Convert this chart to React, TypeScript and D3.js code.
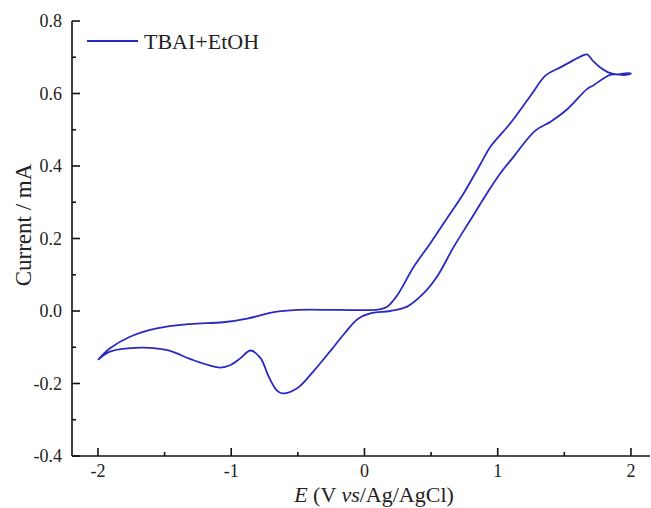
import React from "react";
import * as d3 from "d3";

const W = 651;
const H = 508;
const LEFT = 72;
const RIGHT = 650;
const TOP = 21;
const BOTTOM = 456;
const LINE_COLOR = "#2a2ac2";
const FONT = "'Liberation Serif', 'Times New Roman', serif";

// cyclic voltammogram, in scan order: forward sweep -2 -> 2 V, then back to -2 V
const potential = [
  -2.0, -1.91, -1.76, -1.56, -1.31, -1.06, -0.88, -0.68, -0.5, -0.2, 0.1, 0.17, 0.245, 0.37, 0.495,
  0.62, 0.745, 0.87, 0.945, 1.095, 1.245, 1.36, 1.47, 1.57, 1.64, 1.67, 1.72, 1.77, 1.84, 1.9, 1.97,
  2.0,
  1.95, 1.85, 1.72, 1.67, 1.52, 1.4, 1.28, 1.12, 1.02, 0.92, 0.795, 0.67, 0.545, 0.445, 0.32,
  0.195, 0.05, -0.05, -0.15, -0.255, -0.38, -0.505, -0.617, -0.66, -0.72, -0.78, -0.855, -0.93,
  -1.005, -1.08, -1.2, -1.31, -1.48, -1.68, -1.91, -2.0,
];
const current = [
  -0.135, -0.103, -0.071, -0.048, -0.036, -0.031, -0.021, -0.003, 0.003, 0.003, 0.004, 0.012, 0.043,
  0.122, 0.187, 0.256, 0.325, 0.405, 0.453, 0.518, 0.593, 0.65, 0.672, 0.692, 0.705, 0.708, 0.688,
  0.672, 0.657, 0.653, 0.656, 0.655,
  0.651, 0.652, 0.623, 0.612, 0.556, 0.523, 0.497, 0.426, 0.38, 0.325, 0.251, 0.177, 0.095, 0.049,
  0.012, 0.0, -0.006, -0.022, -0.062, -0.11, -0.165, -0.213, -0.227, -0.218, -0.18, -0.13, -0.109,
  -0.13, -0.149, -0.156, -0.146, -0.132, -0.108, -0.101, -0.112, -0.135,
];

const xMajor = [-2, -1, 0, 1, 2];
const xMinor = [-1.5, -0.5, 0.5, 1.5];
const yMajor = [-0.4, -0.2, 0.0, 0.2, 0.4, 0.6, 0.8];
const yMinor = [-0.3, -0.1, 0.1, 0.3, 0.5, 0.7];
const seriesName = "TBAI+EtOH";

export default function App() {
  const x = d3.scaleLinear().domain([-2.195, 2.143]).range([LEFT, RIGHT]);
  const y = d3.scaleLinear().domain([-0.4, 0.8]).range([BOTTOM, TOP]);

  const pts: [number, number][] = potential.map((e, i) => [e, current[i]]);
  const path = d3
    .line<[number, number]>()
    .x((d) => x(d[0]))
    .y((d) => y(d[1]))
    .curve(d3.curveCatmullRom.alpha(0.5))(pts);

  return (
    <svg
      width={W}
      height={H}
      style={{ position: "absolute", left: 0, top: 0, background: "#fff" }}
      fontFamily={FONT}
    >
      {/* curve */}
      <path d={path || ""} fill="none" stroke={LINE_COLOR} strokeWidth={1.8} strokeLinejoin="round" />

      {/* axes */}
      <g stroke="#111" strokeWidth={1.6}>
        <line x1={LEFT} x2={RIGHT} y1={BOTTOM} y2={BOTTOM} />
        <line x1={LEFT} x2={LEFT} y1={TOP} y2={BOTTOM} />
        {xMajor.map((v) => (
          <line key={"xM" + v} x1={x(v)} x2={x(v)} y1={BOTTOM} y2={BOTTOM - 8} />
        ))}
        {xMinor.map((v) => (
          <line key={"xm" + v} x1={x(v)} x2={x(v)} y1={BOTTOM} y2={BOTTOM - 4} />
        ))}
        {yMajor.map((v) => (
          <line key={"yM" + v} x1={LEFT} x2={LEFT + 8} y1={y(v)} y2={y(v)} />
        ))}
        {yMinor.map((v) => (
          <line key={"ym" + v} x1={LEFT} x2={LEFT + 4} y1={y(v)} y2={y(v)} />
        ))}
      </g>

      {/* tick labels (plain hyphen for negatives, as in the source figure) */}
      <g fontSize={18} fill="#222">
        {xMajor.map((v) => (
          <text key={"xl" + v} x={x(v)} y={BOTTOM + 21} textAnchor="middle">
            {String(v)}
          </text>
        ))}
        {yMajor.map((v) => (
          <text key={"yl" + v} x={LEFT - 10} y={y(v) + 6} textAnchor="end">
            {v.toFixed(1)}
          </text>
        ))}
      </g>

      {/* axis titles */}
      <text x={374} y={502} fontSize={22} textAnchor="middle" fill="#222">
        <tspan fontStyle="italic">E</tspan> (V <tspan fontStyle="italic">vs</tspan>/Ag/AgCl)
      </text>
      <text
        transform={`translate(31, 225) rotate(-90)`}
        fontSize={23}
        textAnchor="middle"
        fill="#222"
      >
        Current / mA
      </text>

      {/* legend */}
      <line x1={87} x2={138} y1={41} y2={41} stroke={LINE_COLOR} strokeWidth={1.8} />
      <text x={144} y={49} fontSize={22} fill="#222">
        {seriesName}
      </text>
    </svg>
  );
}
